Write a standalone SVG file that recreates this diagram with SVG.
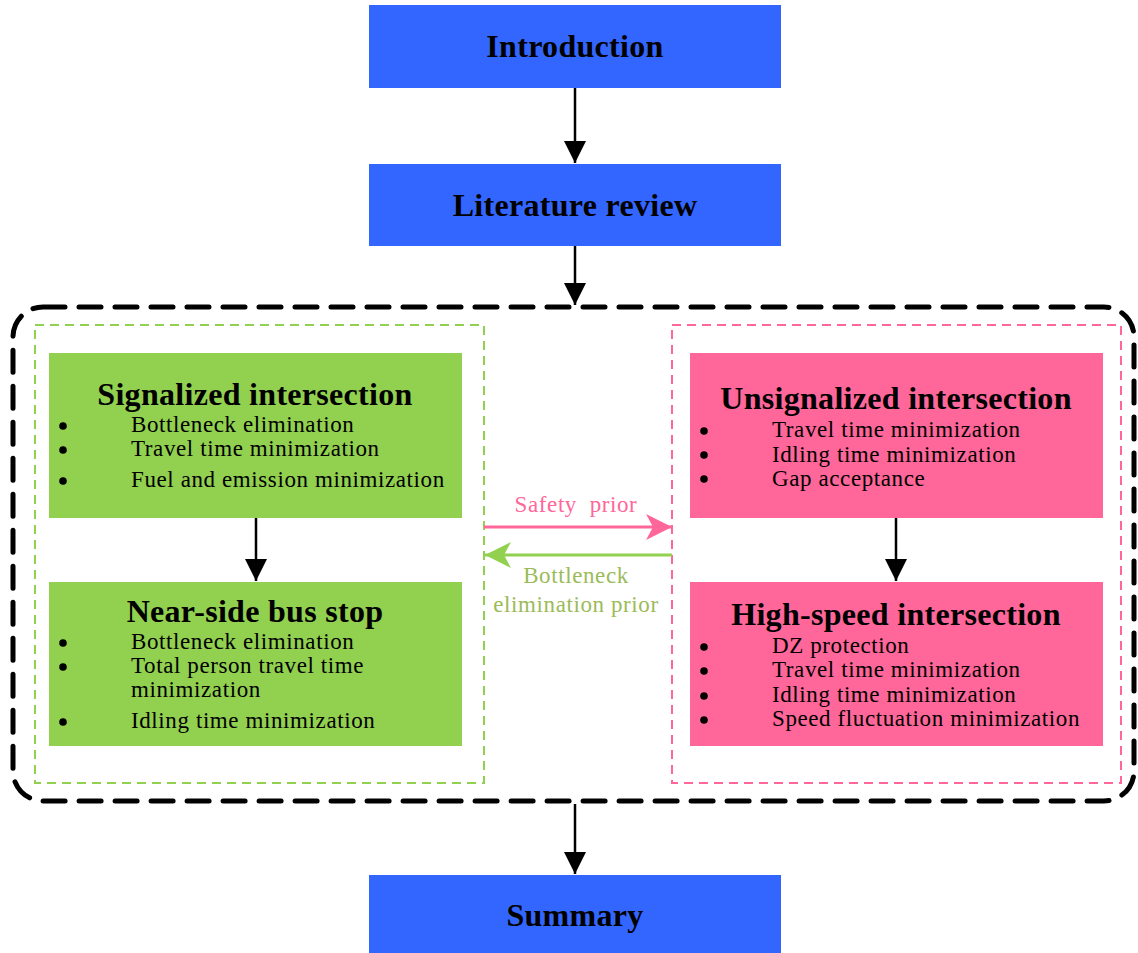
<svg xmlns="http://www.w3.org/2000/svg" width="1138" height="953" viewBox="0 0 1138 953">
<defs>
<style>
.blue{fill:#3366FF}
.green{fill:#92D050}
.pink{fill:#FF6699}
.t{font-family:"Liberation Serif","Times New Roman",serif;fill:#000}
.h{font-weight:bold;font-size:32px;text-anchor:middle;letter-spacing:0.3px}
.b{font-size:23px;letter-spacing:0.6px}
.lbl{font-family:"Liberation Serif","Times New Roman",serif;font-size:23px;letter-spacing:0.6px;text-anchor:middle}
.conn{stroke:#000;stroke-width:2.5;fill:none}
.dot{fill:#000}
</style>
<marker id="ahk" viewBox="0 0 22 22" refX="22" refY="11" markerWidth="22" markerHeight="22" markerUnits="userSpaceOnUse" orient="auto"><path d="M0,0 L22,11 L0,22 z" fill="#000"/></marker>
<marker id="ahp" viewBox="0 0 26 26" refX="26" refY="13" markerWidth="26" markerHeight="26" markerUnits="userSpaceOnUse" orient="auto"><path d="M0,0 L26,13 L0,26 L7,13 z" fill="#FF6699"/></marker>
<marker id="ahg" viewBox="0 0 26 26" refX="26" refY="13" markerWidth="26" markerHeight="26" markerUnits="userSpaceOnUse" orient="auto"><path d="M0,0 L26,13 L0,26 L7,13 z" fill="#92D050"/></marker>
</defs>
<rect width="1138" height="953" fill="#fff"/>

<g id="container">
<rect x="13" y="307" width="1121" height="494" rx="30" fill="none" stroke="#000" stroke-width="5" stroke-dasharray="22 14" stroke-linecap="round"/>
<rect x="35" y="325" width="449" height="458" fill="none" stroke="#92D050" stroke-width="2" stroke-dasharray="9 6"/>
<rect x="672" y="325" width="449" height="458" fill="none" stroke="#FF6699" stroke-width="2" stroke-dasharray="9 6"/>
</g>

<g id="introduction">
<rect class="blue" x="369" y="5" width="412" height="83"/>
<text class="t h" x="575" y="57">Introduction</text>
</g>
<g id="literature">
<rect class="blue" x="369" y="164" width="412" height="82"/>
<text class="t h" x="575" y="216">Literature review</text>
</g>
<g id="summary">
<rect class="blue" x="369" y="875" width="412" height="78"/>
<text class="t h" x="575" y="926">Summary</text>
</g>

<g id="signalized">
<rect class="green" x="49" y="353" width="413" height="165"/>
<text class="t h" x="255" y="405">Signalized intersection</text>
<circle class="dot" cx="63" cy="426" r="3.8"/><circle class="dot" cx="63" cy="450" r="3.8"/><circle class="dot" cx="63" cy="481" r="3.8"/>
<g class="t b">
<text x="131" y="432">Bottleneck elimination</text>
<text x="131" y="456">Travel time minimization</text>
<text x="131" y="487">Fuel and emission minimization</text>
</g>
</g>

<g id="nearside">
<rect class="green" x="49" y="582" width="413" height="164"/>
<text class="t h" x="255" y="622">Near-side bus stop</text>
<circle class="dot" cx="63" cy="643" r="3.8"/><circle class="dot" cx="63" cy="667" r="3.8"/><circle class="dot" cx="63" cy="722" r="3.8"/>
<g class="t b">
<text x="131" y="649">Bottleneck elimination</text>
<text x="131" y="673">Total person travel time</text>
<text x="131" y="697">minimization</text>
<text x="131" y="728">Idling time minimization</text>
</g>
</g>

<g id="unsignalized">
<rect class="pink" x="690" y="353" width="413" height="165"/>
<text class="t h" x="896" y="409">Unsignalized intersection</text>
<circle class="dot" cx="704" cy="431" r="3.8"/><circle class="dot" cx="704" cy="455" r="3.8"/><circle class="dot" cx="704" cy="479" r="3.8"/>
<g class="t b">
<text x="772" y="437">Travel time minimization</text>
<text x="772" y="462">Idling time minimization</text>
<text x="772" y="486">Gap acceptance</text>
</g>
</g>

<g id="highspeed">
<rect class="pink" x="690" y="582" width="413" height="164"/>
<text class="t h" x="896" y="625">High-speed intersection</text>
<circle class="dot" cx="704" cy="647" r="3.8"/><circle class="dot" cx="704" cy="671" r="3.8"/><circle class="dot" cx="704" cy="696" r="3.8"/><circle class="dot" cx="704" cy="720" r="3.8"/>
<g class="t b">
<text x="772" y="653">DZ protection</text>
<text x="772" y="677">Travel time minimization</text>
<text x="772" y="702">Idling time minimization</text>
<text x="772" y="726">Speed fluctuation minimization</text>
</g>
</g>

<g id="connectors">
<line class="conn" x1="575" y1="88" x2="575" y2="163" marker-end="url(#ahk)"/>
<line class="conn" x1="575" y1="246" x2="575" y2="305" marker-end="url(#ahk)"/>
<line class="conn" x1="575" y1="804" x2="575" y2="874" marker-end="url(#ahk)"/>
<line class="conn" x1="256" y1="518" x2="256" y2="581" marker-end="url(#ahk)"/>
<line class="conn" x1="896" y1="518" x2="896" y2="581" marker-end="url(#ahk)"/>
<line x1="484" y1="527" x2="672" y2="527" stroke="#FF6699" stroke-width="3" marker-end="url(#ahp)"/>
<line x1="672" y1="555" x2="485" y2="555" stroke="#92D050" stroke-width="3" marker-end="url(#ahg)"/>
<text class="lbl" x="576" y="512" fill="#FF6699" xml:space="preserve">Safety  prior</text>
<text class="lbl" x="576" y="583" fill="#9BBB59">Bottleneck</text>
<text class="lbl" x="576" y="612" fill="#9BBB59">elimination prior</text>
</g>
</svg>
